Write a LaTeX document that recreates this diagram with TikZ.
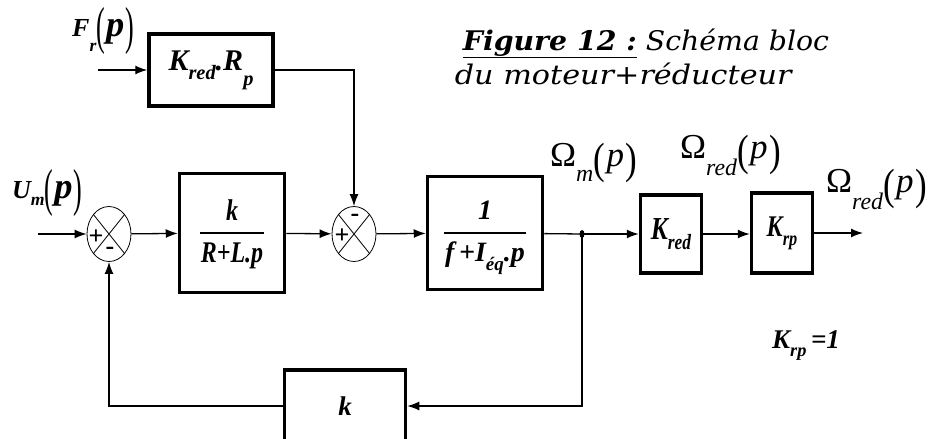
\documentclass[tikz,border=0pt]{standalone}
\usepackage{fontspec}
\setmainfont{Liberation Serif}
\newfontfamily\narrowfont[FakeStretch=0.8]{Liberation Serif}
\newfontfamily\captfont[FakeStretch=1.12]{DejaVu Serif}
\newfontfamily\captfontb[FakeStretch=1.05]{DejaVu Serif}
\usetikzlibrary{arrows.meta,positioning,calc,shapes.geometric}
% subscript: [drop]{text}
\newcommand\sbs[2][0.3em]{\raisebox{-#1}{\scalebox{0.68}{#2}}}
% thin tall brackets round a plain argument
\newcommand\tallpar[1]{{\mdseries\upshape\raisebox{-0.2em}{\scalebox{1}[1.25]{(}}}\kern1.5pt#1\kern1.5pt{\mdseries\upshape\raisebox{-0.2em}{\scalebox{1}[1.25]{)}}}}
% thin tall brackets round an enlarged argument
\newcommand\bigarg[1]{{\mdseries\upshape\raisebox{-0.3em}{\scalebox{1}[2]{(}}}\kern1pt\scalebox{1.4}{#1}\kern1pt{\mdseries\upshape\raisebox{-0.3em}{\scalebox{1}[2]{)}}}}
\newcommand\blkfrac[2]{\renewcommand{\arraystretch}{1.35}\setlength{\arrayrulewidth}{1.6pt}%
	\setlength{\tabcolsep}{1pt}\begin{tabular}{c}#1\\ \hline #2\end{tabular}}
\tikzset{
	blk/.style={draw, line width=3.5pt, align=center, inner sep=1pt,
		font=\fontsize{27}{30}\selectfont\bfseries\itshape},
	narrowblk/.style={blk, font=\narrowfont\fontsize{#1}{#1}\selectfont\bfseries\itshape},
	arrow/.style={-{Latex[length=12pt,width=9pt]}, line width=1.3pt},
	wire/.style={line width=1.3pt},
	sumnode/.style={ellipse, draw, line width=0.8pt, inner sep=0pt,
		minimum width=44pt, minimum height=55pt,
		path picture={\draw[line width=0.8pt]
			(path picture bounding box.south west) -- (path picture bounding box.north east)
			(path picture bounding box.north west) -- (path picture bounding box.south east);}},
	sgn/.style={font=\fontsize{26}{26}\selectfont\bfseries, inner sep=0pt},
	inlbl/.style={font=\fontsize{26}{28}\selectfont\bfseries\itshape, inner sep=0pt, anchor=base west},
	omlbl/.style={font=\fontsize{35}{38}\selectfont, inner sep=0pt, anchor=base west}
}
\begin{document}
\begin{tikzpicture}[x=1pt, y=-1pt]
	\clip (0,0) rectangle (943,439);
	
	%% -- Blocks
	\node[blk, font=\fontsize{30}{32}\selectfont\bfseries\itshape,
	minimum width=124pt, minimum height=72pt] (kr) at (211,70)
	{K\sbs[0.3em]{red}.R\sbs[0.5em]{p}};
	
	\node[narrowblk=30, minimum width=105pt, minimum height=119pt] (bel) at (232,233)
	{\blkfrac{k}{R+L.p}};
	
	\node[blk, font=\fontsize{28}{30}\selectfont\bfseries\itshape,
	minimum width=115pt, minimum height=113pt] (bmec) at (485,233)
	{\blkfrac{1}{f\,+I\sbs{éq}.p}};
	
	\node[narrowblk=32, minimum width=61pt, minimum height=78pt] (kred) at (671,234)
	{K\sbs{red}};
	
	\node[narrowblk=30, minimum width=61pt, minimum height=80pt] (krp) at (782,233)
	{K\sbs{rp}};
	
	\node[blk, minimum width=121pt, minimum height=72pt] (kfb) at (345,406)
	{k};
	
	%% -- Summing points
	\node[sumnode] (s1) at (109,234) {};
	\node[sgn] at ($(s1)+(-13,3)$) {+};
	\node[sgn] at ($(s1)+(1,17)$) {-};
	
	\node[sumnode] (s2) at (354,234) {};
	\node[sgn] at ($(s2)+(1,-16)$) {-};
	\node[sgn] at ($(s2)+(-12,2)$) {+};
	
	%% -- Free ends
	\coordinate (uin) at (38,234);
	\coordinate (fin) at (98,70);
	\coordinate (br) at (582,234);
	\coordinate (out) at (863,233);
	
	%% -- Forward path
	\draw[arrow] (uin) -- (s1);
	\draw[arrow] (s1) -- (bel);
	\draw[arrow] (bel) -- (s2);
	\draw[arrow] (s2) -- (bmec);
	\draw[wire] (bmec) -- (br);
	\draw[arrow] (br) -- (kred);
	\draw[arrow] (kred.east) -- (krp.west |- kred.east);
	\draw[arrow] (krp.east) -- (out);
	\fill (br) ellipse (2.5pt and 4pt);
	
	%% -- Disturbance path
	\draw[arrow] (fin) -- (kr);
	\draw[arrow] (kr.east) -| (s2.north);
	
	%% -- Feedback path
	\draw[arrow] (br) |- (kfb.east);
	\draw[arrow] (kfb.west) -| (s1.south);
	
	%% -- Labels
	\node[inlbl] (lu) at (12,198) {U\sbs[0.27em]{m}\bigarg{p}};
	\node[inlbl] (lf) at (72,36) {F\sbs[0.6em]{r}\bigarg{p}};
	\node[omlbl] (lom) at (550,166) {Ω\sbs[0.45em]{\itshape m}\tallpar{\itshape p}};
	\node[omlbl] (lred) at (680,158) {Ω\sbs[0.5em]{\itshape red}\tallpar{\itshape p}};
	\node[omlbl] (lout) at (826,192) {Ω\sbs[0.5em]{\itshape red}\tallpar{\itshape p}};
	\node[inlbl, font=\fontsize{27}{28}\selectfont\bfseries\itshape]
	(lk) at (772,348) {K\sbs{rp}\,=1};
	
	%% -- Caption
	\node[font=\captfontb\fontsize{27}{30}\selectfont, anchor=base] (capt) at (646,50)
	{\underline{\textbf{\textit{Figure 12 :}}} \textit{Schéma bloc}};
	\node[font=\captfont\fontsize{27}{30}\selectfont, anchor=base] (capt2) at (624,84)
	{\textit{du moteur+réducteur}};
	
\end{tikzpicture}
\end{document}
